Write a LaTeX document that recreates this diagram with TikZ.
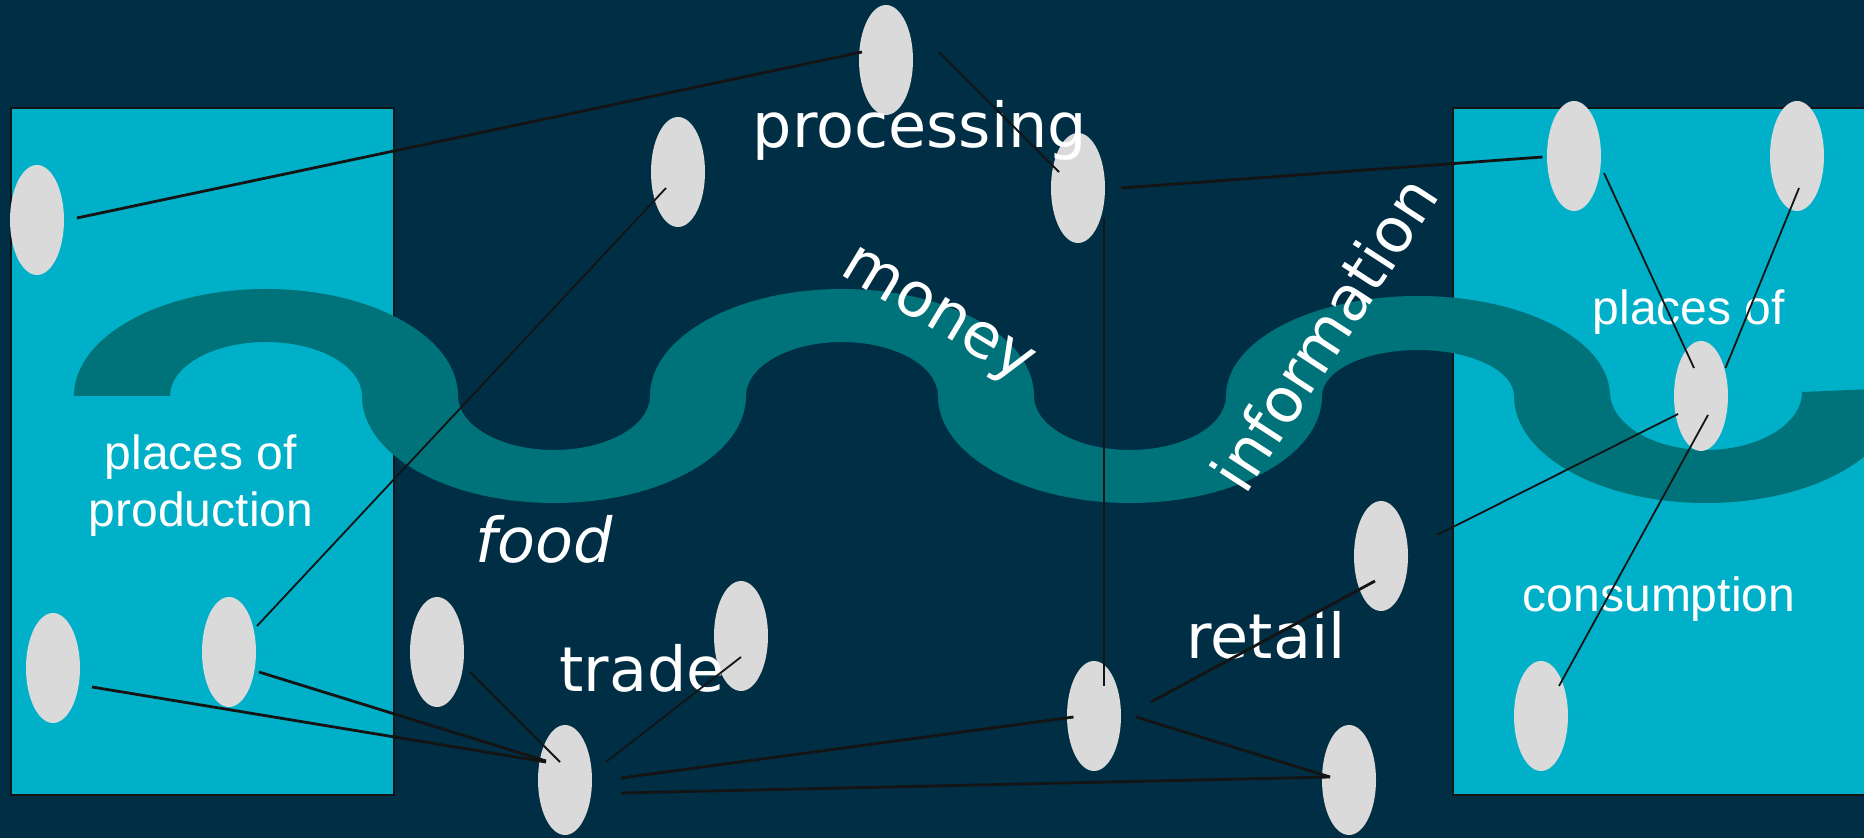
\documentclass[tikz,border=0pt]{standalone}
\usepackage{fontspec}
\setmainfont{DejaVu Sans}
\newfontfamily\labfont{Liberation Sans}
\usetikzlibrary{shapes.geometric}
\definecolor{bg}{HTML}{002F45}
\definecolor{boxc}{HTML}{00B0C8}
\definecolor{bandc}{HTML}{00737A}
\definecolor{dotc}{HTML}{DADADA}
\definecolor{lnc}{HTML}{141414}
\begin{document}
\begin{tikzpicture}[x=1pt,y=1pt,
  place/.style={ellipse, fill=dotc, minimum width=54pt, minimum height=110pt, inner sep=0pt},
  big/.style={text=white, font=\fontsize{62}{72}\selectfont, inner sep=0pt, anchor=base},
  small/.style={text=white, font=\labfont\fontsize{48}{57.6}\selectfont, inner sep=0pt, anchor=base},
  thickln/.style={draw=lnc, line width=2.8pt},
  thinln/.style={draw=lnc, line width=1.8pt},
  region/.style={fill=boxc, draw=lnc, line width=2pt},
  bandfill/.style={fill=bandc}]
\useasboundingbox (0,0) rectangle (1864,838);
\clip (0,0) rectangle (1864,838);
\fill[bg] (0,0) rectangle (1864,838);
% regions
\draw[region] (11,43) rectangle (394,730);
\draw[region] (1453,43) rectangle (1880,730);
% band
\fill[bandfill] (74,442) arc[start angle=180, end angle=0, x radius=192, y radius=107] -- (362,442) arc[start angle=0, end angle=180, x radius=96, y radius=54] -- cycle;
\fill[bandfill] (362,442) arc[start angle=180, end angle=360, x radius=192, y radius=107] -- (650,442) arc[start angle=360, end angle=180, x radius=96, y radius=54] -- cycle;
\fill[bandfill] (650,442) arc[start angle=180, end angle=0, x radius=192, y radius=107] -- (938,442) arc[start angle=0, end angle=180, x radius=96, y radius=54] -- cycle;
\fill[bandfill] (938,442) arc[start angle=180, end angle=360, x radius=192, y radius=107] -- (1226,442) arc[start angle=360, end angle=180, x radius=96, y radius=54] -- cycle;
\fill[bandfill] (1226,442) arc[start angle=180, end angle=0, x radius=192, y radius=100] -- (1514,442) arc[start angle=0, end angle=180, x radius=96, y radius=46] -- cycle;
\fill[bandfill] (1514,442) arc[start angle=180, end angle=360, x radius=192, y radius=107] -- (1898,442) -- (1898,450) -- (1802,446) arc[start angle=360, end angle=180, x radius=96, y radius=58] -- cycle;
% places
\node[place] (e1) at (37,618) {};
\node[place] (e2) at (886,778) {};
\node[place] (e3) at (678,666) {};
\node[place] (e4) at (1078,650) {};
\node[place] (e5) at (1574,682) {};
\node[place] (e6) at (1797,682) {};
\node[place] (e7) at (1701,442) {};
\node[place] (e8) at (53,170) {};
\node[place] (e9) at (229,186) {};
\node[place] (e10) at (437,186) {};
\node[place] (e11) at (741,202) {};
\node[place] (e12) at (565,58) {};
\node[place] (e13) at (1381,282) {};
\node[place] (e14) at (1094,122) {};
\node[place] (e15) at (1349,58) {};
\node[place] (e16) at (1541,122) {};
% labels
\node[small, align=center] (prod) at (201,311) {places of\\production};
\node[small] (cons1) at (1689,513) {places of};
\node[small] (cons2) at (1659,226) {consumption};
\node[big] (proc) at (920,690) {processing};
\node[big] (trade) at (642,146) {trade};
\node[big] (retail) at (1266,179) {retail};
\node[big, font=\fontsize{62}{72}\selectfont\itshape] (food) at (544,275) {food};
\node[big, rotate=-31] (money) at (930,510) {money};
\node[big, rotate=57] (info) at (1343,492) {information};
% connectors
\draw[thickln] ([xshift=40pt,yshift=2pt]e1.center) -- ([xshift=-24pt,yshift=8pt]e2.center);
\draw[thinln] ([xshift=-12pt,yshift=-16pt]e3.center) -- ([xshift=28pt,yshift=26pt]e9.center);
\draw[thinln] ([xshift=53pt,yshift=8pt]e2.center) -- ([xshift=-19pt,yshift=16pt]e4.center);
\draw[thickln] ([xshift=43pt]e4.center) -- ([xshift=-31.5pt,yshift=-1pt]e5.center);
\draw[thinln] ([xshift=26pt,yshift=-30pt]e4.center) -- ([xshift=10pt,yshift=30pt]e14.center);
\draw[thinln] ([xshift=30pt,yshift=-17pt]e5.center) -- ([xshift=-7pt,yshift=28pt]e7.center);
\draw[thinln] ([xshift=2pt,yshift=-32pt]e6.center) -- ([xshift=24.5pt,yshift=28pt]e7.center);
\draw[thinln] ([xshift=-23pt,yshift=-18pt]e7.center) -- ([xshift=56pt,yshift=21pt]e13.center);
\draw[thinln] ([xshift=7pt,yshift=-19pt]e7.center) -- ([xshift=18pt,yshift=30pt]e16.center);
\draw[thickln] ([xshift=-6pt,yshift=-25pt]e13.center) -- ([xshift=57pt,yshift=14pt]e14.center);
\draw[thickln] ([xshift=39pt,yshift=-19pt]e8.center) -- ([xshift=-19pt,yshift=18pt]e12.center);
\draw[thickln] ([xshift=30pt,yshift=-20pt]e9.center) -- ([xshift=-19pt,yshift=19pt]e12.center);
\draw[thinln] ([xshift=33pt,yshift=-20pt]e10.center) -- ([xshift=-5pt,yshift=18pt]e12.center);
\draw[thinln] ([yshift=-21pt]e11.center) -- ([xshift=41pt,yshift=18pt]e12.center);
\draw[thickln] ([xshift=56pt,yshift=2pt]e12.center) -- ([xshift=-20.5pt,yshift=-1pt]e14.center);
\draw[thickln] ([xshift=56pt,yshift=-13pt]e12.center) -- ([xshift=-19pt,yshift=3pt]e15.center);
\draw[thickln] ([xshift=42pt,yshift=-1pt]e14.center) -- ([xshift=-19pt,yshift=3pt]e15.center);
\end{tikzpicture}
\end{document}
